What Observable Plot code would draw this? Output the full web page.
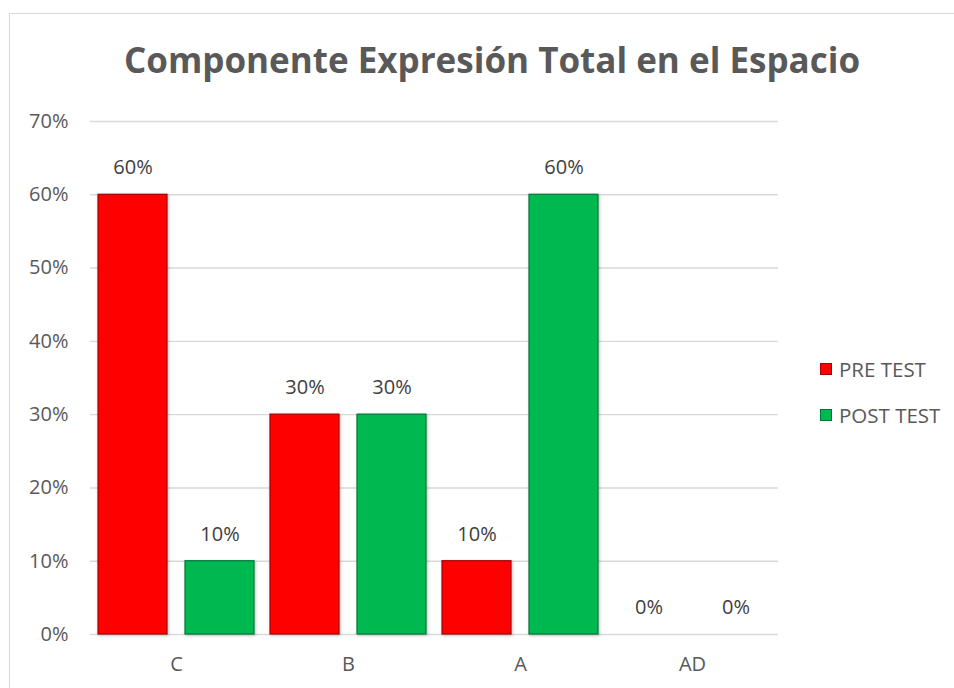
<!DOCTYPE html>
<html>
<head>
<meta charset="utf-8">
<script src="https://cdn.jsdelivr.net/npm/d3@7"></script>
<script src="https://cdn.jsdelivr.net/npm/@observablehq/plot@0.6"></script>
<style>
  html, body { margin: 0; padding: 0; background: #fff; }
  body { width: 954px; height: 688px; position: relative; overflow: hidden; font-family: "Open Sans", sans-serif; }
  #frame { position: absolute; left: 9px; top: 13px; width: 1000px; height: 800px; border: 1px solid #D9D9D9; box-sizing: border-box; }
  #title { position: absolute; left: 0; top: 35px; width: 984px; text-align: center; font-size: 35px; font-weight: bold; color: #595959; line-height: 50px; }
  #chart { position: absolute; left: 0; top: 100px; }
  #legend { position: absolute; left: 820px; top: 354px; color: #595959; font-size: 20.5px; }
  .item { display: flex; align-items: center; height: 30px; margin-bottom: 16px; }
  .sw { width: 12px; height: 12px; margin-right: 7px; box-sizing: border-box; }
  .bars rect { filter: drop-shadow(1px 1px 1.5px rgba(0,0,0,0.25)); }
</style>
</head>
<body>
<div id="frame"></div>
<div id="title">Componente Expresión Total en el Espacio</div>
<div id="chart"></div>
<div id="legend"></div>
<script>
const categories = ["C", "B", "A", "AD"];
const series = ["PRE TEST", "POST TEST"];
const preTest = [0.6, 0.3, 0.1, 0];
const postTest = [0.1, 0.3, 0.6, 0];
const yTicks = [0, 0.1, 0.2, 0.3, 0.4, 0.5, 0.6, 0.7];
const fillColors = ["#FF0000", "#00B850"];
const edgeColors = ["#A80000", "#00773A"];

const values = [preTest, postTest];
const data = categories.flatMap((c, i) => series.map((s, j) => ({
  category: c, series: s, value: values[j][i], fill: fillColors[j], edge: edgeColors[j]
})));
const pct = d3.format(".0%");

const chart = Plot.plot({
  width: 954,
  height: 588,
  marginLeft: 90,
  marginRight: 176,
  marginTop: 21,
  marginBottom: 54,
  style: { fontFamily: "Open Sans, sans-serif", fontSize: "20px", color: "#595959", background: "transparent" },
  fx: { domain: categories, padding: 0, label: null, axis: null },
  x: { domain: series, paddingInner: 0.2045, paddingOuter: 0.08, axis: null },
  y: { domain: [0, 0.7], axis: null },
  marks: [
    Plot.gridY(yTicks, { stroke: "#D9D9D9", strokeOpacity: 1, strokeWidth: 1.4 }),
    Plot.axisY({ ticks: yTicks, tickFormat: pct, tickSize: 0, tickPadding: 22, label: null, fontSize: 20 }),
    Plot.axisFx({ anchor: "bottom", tickSize: 0, tickPadding: 22, label: null, fontSize: 20 }),
    Plot.barY(data.filter(d => d.value > 0), {
      fx: "category", x: "series", y: "value",
      fill: d => d.fill, stroke: d => d.edge, strokeWidth: 1.2, className: "bars"
    }),
    Plot.text(data, {
      fx: "category", x: "series", y: "value",
      text: d => pct(d.value), dy: -27, fill: "#404040", fontSize: 20
    })
  ]
});
document.getElementById("chart").appendChild(chart);

const legend = document.getElementById("legend");
series.forEach((s, j) => {
  const item = document.createElement("div");
  item.className = "item";
  const sw = document.createElement("div");
  sw.className = "sw";
  sw.style.background = fillColors[j];
  sw.style.border = "1px solid " + edgeColors[j];
  const label = document.createElement("span");
  label.textContent = s;
  item.appendChild(sw);
  item.appendChild(label);
  legend.appendChild(item);
});
</script>
</body>
</html>
